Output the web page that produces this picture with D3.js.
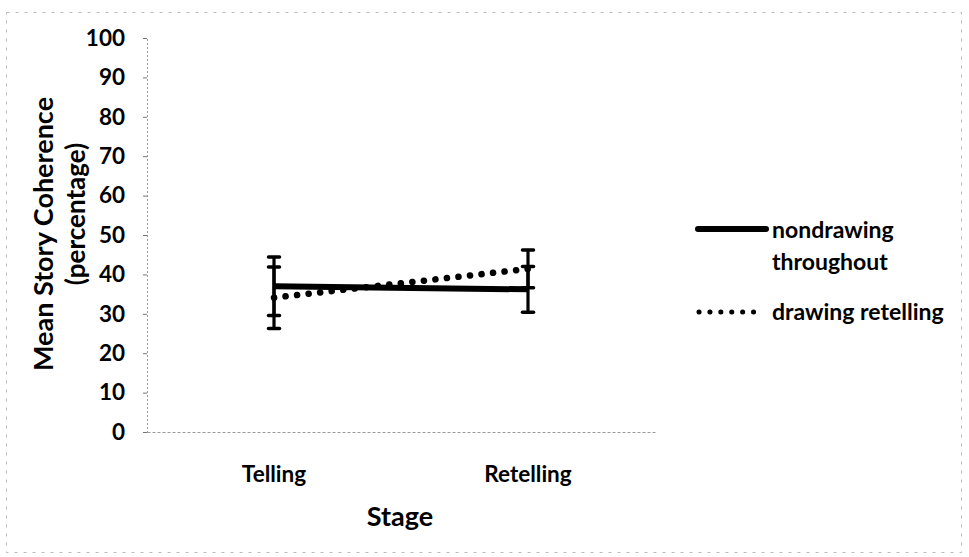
<!DOCTYPE html>
<html>
<head>
<meta charset="utf-8">
<script src="https://cdn.jsdelivr.net/npm/d3@7"></script>
<style>
  html, body { margin: 0; padding: 0; background: #fff; }
  svg { display: block; font-family: Lato, "Open Sans", sans-serif; font-weight: bold; }
</style>
</head>
<body>
<svg id="chart" width="969" height="557"></svg>
<script>
// Stages on the x axis
const stages = ["Telling", "Retelling"];
// Mean story coherence (%) per group
const nondrawingMeans = [37.0, 36.2];
const nondrawingErrors = [7.4, 5.8];
const drawingMeans = [34.1, 41.4];
const drawingErrors = [7.8, 4.8];
// Y axis ticks
const yTicks = [0, 10, 20, 30, 40, 50, 60, 70, 80, 90, 100];

const svg = d3.select("#chart");
const plot = { left: 147, right: 655, top: 38, bottom: 432 };

const x = d3.scaleBand().domain(stages).range([plot.left, plot.right]);
const y = d3.scaleLinear().domain([0, 100]).range([plot.bottom, plot.top]);
const cx = d => x(d) + x.bandwidth() / 2;

// faint page frame
svg.append("rect")
  .attr("x", 6.5).attr("y", 12.5).attr("width", 955).attr("height", 540)
  .attr("fill", "none").attr("stroke", "#bbb").attr("stroke-width", 1)
  .attr("stroke-dasharray", "3 6");

// axes
const yAxis = d3.axisLeft(y).tickValues(yTicks).tickSize(4).tickPadding(18);
const gy = svg.append("g").attr("transform", `translate(${plot.left},0)`).call(yAxis);
gy.select(".domain").attr("stroke", "#999").attr("stroke-dasharray", "2 2");
gy.selectAll(".tick line").attr("stroke", "#777");
gy.selectAll(".tick text")
  .attr("font-size", 22.5).attr("font-weight", "bold").attr("fill", "#000")
  .attr("font-family", "Lato, sans-serif");

const xAxis = d3.axisBottom(x).tickSize(0).tickPadding(34);
const gx = svg.append("g").attr("transform", `translate(0,${plot.bottom})`).call(xAxis);
gx.select(".domain").attr("stroke", "#999").attr("stroke-dasharray", "3 2");
gx.selectAll(".tick text")
  .attr("font-size", 22.5).attr("font-weight", "bold").attr("fill", "#000")
  .attr("font-family", "Lato, sans-serif");

// axis titles
svg.append("text").attr("x", 400).attr("y", 526)
  .attr("text-anchor", "middle").attr("font-size", 27).text("Stage");
svg.append("text").attr("transform", "translate(53,234) rotate(-90)")
  .attr("text-anchor", "middle").attr("font-size", 27).text("Mean Story Coherence");
svg.append("text").attr("transform", "translate(85,214) rotate(-90)")
  .attr("text-anchor", "middle").attr("font-size", 26).text("(percentage)");

const line = d3.line().x((d, i) => cx(stages[i])).y(d => y(d));

// series lines
svg.append("path").datum(nondrawingMeans)
  .attr("d", line).attr("fill", "none").attr("stroke", "#000").attr("stroke-width", 6);
svg.append("path").datum(drawingMeans)
  .attr("d", line).attr("fill", "none").attr("stroke", "#000").attr("stroke-width", 6.5)
  .attr("stroke-linecap", "round").attr("stroke-dasharray", "0.1 11.5");

// error bars
function errorBars(means, errs) {
  const g = svg.append("g").attr("stroke", "#000");
  stages.forEach((s, i) => {
    const xc = cx(s), lo = y(means[i] - errs[i]), hi = y(means[i] + errs[i]);
    g.append("line").attr("x1", xc).attr("x2", xc).attr("y1", lo).attr("y2", hi).attr("stroke-width", 3.2);
    [lo, hi].forEach(v => g.append("line")
      .attr("x1", xc - 5.5).attr("x2", xc + 5.5).attr("y1", v).attr("y2", v)
      .attr("stroke-width", 3.5).attr("stroke-linecap", "round"));
  });
}
errorBars(nondrawingMeans, nondrawingErrors);
errorBars(drawingMeans, drawingErrors);

// legend
const lg = svg.append("g");
lg.append("line").attr("x1", 698).attr("x2", 766).attr("y1", 229).attr("y2", 229)
  .attr("stroke", "#000").attr("stroke-width", 6).attr("stroke-linecap", "round");
lg.append("text").attr("x", 772).attr("y", 238).attr("font-size", 23).text("nondrawing");
lg.append("text").attr("x", 772).attr("y", 270).attr("font-size", 23).text("throughout");
lg.append("line").attr("x1", 699).attr("x2", 764).attr("y1", 312).attr("y2", 312)
  .attr("stroke", "#000").attr("stroke-width", 5).attr("stroke-linecap", "round")
  .attr("stroke-dasharray", "0.1 10.8");
lg.append("text").attr("x", 772).attr("y", 320).attr("font-size", 23).text("drawing retelling");
</script>
</body>
</html>
